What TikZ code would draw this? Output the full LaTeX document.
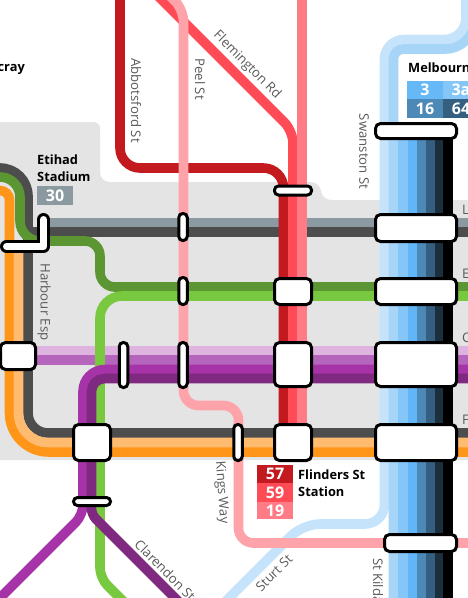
\documentclass[tikz,border=0pt]{standalone}
\usepackage{fontspec}
\setmainfont{Open Sans}
\usetikzlibrary{positioning}
\definecolor{bgGrey}{HTML}{E4E4E4}
\definecolor{slate}{HTML}{8A9AA0}
\definecolor{coal}{HTML}{4D4D4D}
\definecolor{orangeA}{HTML}{FF9619}
\definecolor{orangeB}{HTML}{FFBC70}
\definecolor{greenA}{HTML}{5C9632}
\definecolor{greenB}{HTML}{78C93F}
\definecolor{purpleA}{HTML}{DFB3DF}
\definecolor{purpleB}{HTML}{B565BB}
\definecolor{purpleC}{HTML}{A733A8}
\definecolor{purpleD}{HTML}{7F2A80}
\definecolor{redA}{HTML}{C21A1F}
\definecolor{redB}{HTML}{FF4B55}
\definecolor{redC}{HTML}{FF7B85}
\definecolor{pinkA}{HTML}{FFA3AA}
\definecolor{blueA}{HTML}{C5E3FB}
\definecolor{blueB}{HTML}{A7D5F8}
\definecolor{blueC}{HTML}{85C6F8}
\definecolor{blueD}{HTML}{62B6F7}
\definecolor{blueE}{HTML}{4D89B6}
\definecolor{blueF}{HTML}{345F80}
\definecolor{blueG}{HTML}{1C2F3D}
\definecolor{roadGrey}{HTML}{5A5A5A}
\tikzset{
  track/.style={line width=9.6pt},
  stn/.style={rectangle, draw=black, fill=white, line width=3pt, rounded corners=5pt, inner sep=0pt},
  halt/.style={stn, rounded corners=4pt, minimum width=8.5pt},
  road/.style={text=roadGrey, font=\fontsize{13.2}{15}\selectfont, inner sep=0pt},
  stnlabel/.style={text=black, font=\fontsize{12.8}{16.5}\selectfont\bfseries, align=left, inner sep=0pt},
  badge/.style={text=white, font=\fontsize{16}{16}\selectfont\bfseries, inner sep=0pt, minimum width=36pt}
}
\begin{document}
\begin{tikzpicture}[x=1pt,y=-1pt]
\clip (0,0) rectangle (468,598);
\fill[white] (0,0) rectangle (468,598);
% city block
\fill[bgGrey] (0,122) -- (93,122) .. controls (97.5,122) and (100,124.5) .. (100,129) -- (100,172)
  .. controls (100,178) and (104,182) .. (110,182) -- (310,182) .. controls (317,182) and (320,186) .. (321,191)
  .. controls (322,197) and (326,200) .. (332,200) -- (468,200) -- (468,460) -- (0,460) -- cycle;

% east-west tracks
\draw[track,slate] (43,223) -- (470,223);
\draw[track,coal] (28,232) -- (470,232);
\draw[track,coal,rounded corners=28pt] (-2,168) -- (28,168) [rounded corners=20pt] -- (28,433) -- (470,433);
\draw[track,orangeA,rounded corners=9.5pt] (-2,190.5) -- (9.5,190.5) [rounded corners=39pt] -- (9.5,452) -- (470,452);
\draw[track,orangeB,rounded corners=29.5pt] (18.5,245) -- (18.5,442.5) -- (470,442.5);
\draw[track,greenA,rounded corners=20pt] (-2,177) -- (20,177) -- (20,241) [rounded corners=15pt] -- (100,241) -- (100,287) -- (470,287);
\draw[track,purpleA] (18,350.5) -- (470,350.5);
\draw[track,purpleB] (18,360) -- (470,360);
\draw[track,greenB,rounded corners=22pt] (470,296) -- (100,296) [rounded corners=10pt] -- (100,578) -- (130,608);
\draw[track,purpleC,rounded corners=22pt] (470,369.5) -- (83,369.5) [rounded corners=10pt] -- (83,515) -- (-5,603);
\draw[track,purpleD,rounded corners=13pt] (470,378.5) -- (91.5,378.5) [rounded corners=6pt] -- (91.5,514.5) -- (180,603);

% north-south tracks
\draw[track,redA,rounded corners=20pt] (120,-5) -- (120,168) -- (283.5,168) -- (283.5,430);
\draw[track,redB,rounded corners=12pt] (155,-7) -- (293,131) -- (293,430);
\draw[track,redC] (302,-5) -- (302,430);
\draw[track,blueA,rounded corners=21.5pt] (466,-5) -- (466,39.5) [rounded corners=19.5pt] -- (384.5,39.5) -- (384.5,524) [rounded corners=17pt] -- (303,524) -- (226,601);
\draw[track,blueB,rounded corners=30pt] (475,-5) -- (475,49) [rounded corners=10pt] -- (393.5,49) -- (393.5,603);
\foreach \bandcol/\bandx in {blueC/403,blueD/412.5,blueE/421.5,blueF/430.5,blueG/439.5,black/448}
  \draw[track,\bandcol] (\bandx,131) -- (\bandx,603);
\draw[track,pinkA,rounded corners=12pt] (164,-10) -- (183.5,9.5) [rounded corners=15pt] -- (183.5,405.5) -- (238.5,405.5) -- (238.5,543) -- (470,543);

% stations
\node[stn, minimum width=81pt, minimum height=15pt] (swanstonA) at (416,131) {};
\node[stn, minimum width=81pt, minimum height=27pt] (swanstonB) at (416,228) {};
\node[stn, minimum width=81pt, minimum height=26pt] (swanstonC) at (416,291.5) {};
\node[stn, minimum width=81pt, minimum height=44pt] (swanstonD) at (416,364.5) {};
\node[stn, minimum width=81pt, minimum height=36pt] (swanstonE) at (416,442.5) {};
\node[stn, minimum width=72pt, minimum height=17pt] (stkilda) at (420.5,543) {};
\node[stn, rounded corners=4pt, minimum width=37pt, minimum height=9pt] (flemA) at (293,190.5) {};
\node[stn, minimum width=37pt, minimum height=26pt] (flemB) at (293,291.5) {};
\node[stn, minimum width=37pt, minimum height=44pt] (flemC) at (293,364.5) {};
\node[stn, minimum width=37pt, minimum height=36pt] (flemD) at (293,442.5) {};
\node[halt, minimum height=27pt] (peelA) at (183,227) {};
\node[halt, minimum height=27pt] (peelB) at (183,291) {};
\node[halt, minimum height=45pt] (peelC) at (183,365) {};
\node[halt, minimum height=36pt] (kings) at (238,442.5) {};
\node[halt, minimum height=45pt] (harbourA) at (123.5,365) {};
\node[stn, minimum width=37pt, minimum height=36pt] (harbourB) at (92,442.5) {};
\node[stn, rounded corners=4pt, minimum width=37pt, minimum height=8pt] (clarendon) at (92,501.5) {};
\node[stn, minimum width=35pt, minimum height=27pt] (harbourC) at (18,356) {};
\draw[line width=13pt,black,line cap=round,line join=round] (43.5,219.5) -- (43.5,246.5) -- (6.5,246.5);
\draw[line width=7pt,white,line cap=round,line join=round] (43.5,219.5) -- (43.5,246.5) -- (6.5,246.5);

% road names
\node[road, rotate=-90] (abbotsford) at (136,100.5) {Abbotsford St};
\node[road, rotate=-90] (peel) at (200,79) {Peel St};
\node[road, rotate=-45] (flemington) at (247,65) {Flemington Rd};
\node[road, rotate=-90] (swanston) at (364,151.5) {Swanston St};
\node[road, rotate=-90] (harbour) at (44,302) {Harbour Esp};
\node[road, rotate=-86] (kingsway) at (221.5,492.5) {Kings Way};
\node[road, rotate=45] (sturt) at (274,573) {Sturt St};
\node[road, rotate=-90, anchor=west] (stkildard) at (378,558) {St Kilda};
\node[road, rotate=-45, anchor=west] (clarendonst) at (137,542) {Clarendon St};
\node[road, anchor=west] (edgeL) at (462,210) {L};
\node[road, anchor=west] (edgeE) at (462,274) {E};
\node[road, anchor=west] (edgeC) at (462,338) {C};
\node[road, anchor=west] (edgeF) at (462,420) {F};

% station names and route badges
\node[stnlabel, anchor=east] (footscray) at (25,69) {cray};
\node[stnlabel, anchor=north west] (etihad) at (37,155) {Etihad\\Stadium};
\node[stnlabel, anchor=west] (melbourne) at (408,68) {Melbourne};
\node[stnlabel, anchor=north west] (flinders) at (298,470) {Flinders St\\Station};
\node[badge, fill=slate, minimum height=19pt] (routeT) at (55,195.5) {30};
\node[badge, fill=blueD!85!blueC, minimum height=18pt] (routeA) at (425,90) {3};
\node[badge, fill=blueC, minimum height=18pt] (routeB) at (461,90) {3a};
\node[badge, fill=blueE, minimum height=19pt] (routeC) at (425,108.5) {16};
\node[badge, fill=blueF, minimum height=19pt] (routeD) at (461,108.5) {64};
\node[badge, fill=redA, minimum height=18pt] (routeE) at (275,474) {57};
\node[badge, fill=redB, minimum height=19pt] (routeF) at (275,492.5) {59};
\node[badge, fill=redC, minimum height=17pt] (routeG) at (275,510.5) {19};
\end{tikzpicture}
\end{document}
